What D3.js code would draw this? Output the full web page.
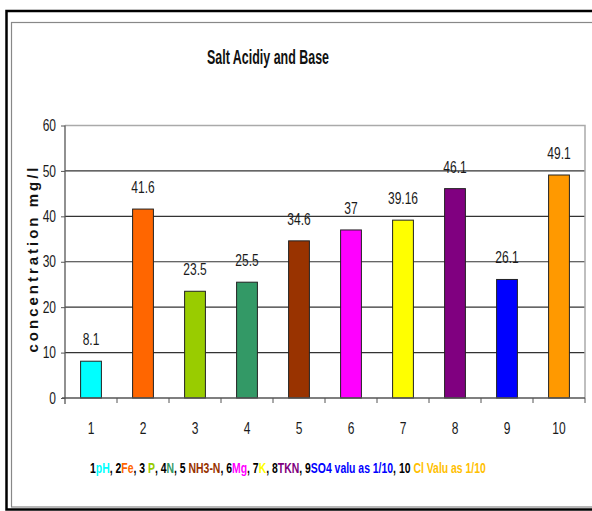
<!DOCTYPE html>
<html><head><meta charset="utf-8">
<script src="https://cdn.jsdelivr.net/npm/d3@7"></script>
<style>
html,body{margin:0;padding:0;background:#fff;}
svg{display:block;}
.narrow{font-family:"Liberation Sans Narrow","Arial Narrow","Liberation Sans",Arial,sans-serif;}
</style>
</head><body>
<svg id="c" width="592" height="511"></svg>
<script>
const categories = ["1","2","3","4","5","6","7","8","9","10"];
const values = [8.1, 41.6, 23.5, 25.5, 34.6, 37, 39.16, 46.1, 26.1, 49.1];
const valueLabels = ["8.1","41.6","23.5","25.5","34.6","37","39.16","46.1","26.1","49.1"];
const barColors = ["#00FFFF","#FF6600","#99CC00","#339966","#993300","#FF00FF","#FFFF00","#800080","#0000FF","#FF9900"];
const yTicks = [0,10,20,30,40,50,60];
const legendParts = [
  ["1","#000"],["pH","#00FFFF"],[", 2","#000"],["Fe","#FF6600"],[", 3 ","#000"],["P","#99CC00"],
  [", 4","#000"],["N","#339966"],[", 5 ","#000"],["NH3-N","#993300"],[", 6","#000"],["Mg","#FF00FF"],
  [", 7","#000"],["K","#FFFF00"],[", 8","#000"],["TKN","#800080"],[", 9","#000"],["SO4 valu as 1/10","#0000FF"],
  [", 10 ","#000"],["Cl Valu as 1/10","#FFC000"]
];
const title = "Salt Acidiy and Base";
const yTitle = "concentration mg/l";

const svg = d3.select("#c");
function narrow(sel, factor){
  sel.each(function(){
    const len = this.getComputedTextLength();
    d3.select(this).attr("textLength", len*factor).attr("lengthAdjust","spacingAndGlyphs");
  });
}
// frames
svg.append("rect").attr("x",6.5).attr("y",11).attr("width",620).attr("height",498.5)
  .attr("fill","none").attr("stroke","#000").attr("stroke-width",2.5);
svg.append("rect").attr("x",11.5).attr("y",22.5).attr("width",620).attr("height",484.5)
  .attr("fill","none").attr("stroke","#888").attr("stroke-width",1.2);

const x = d3.scaleBand().domain(categories).range([65,585]).paddingInner(0.6).paddingOuter(0.3);
const y = d3.scaleLinear().domain([0,60]).range([398,125.5]);

// gridlines
svg.append("g").selectAll("line").data(yTicks.filter(t=>t>0 && t<60)).join("line")
  .attr("x1",65).attr("x2",585).attr("y1",d=>y(d)).attr("y2",d=>y(d))
  .attr("stroke","#333").attr("stroke-width",1.2);
svg.append("path").attr("d",`M65,${y(60)}H585V${y(0)}`).attr("fill","none").attr("stroke","#aaa").attr("stroke-width",1.5);

// bars
svg.append("g").selectAll("rect").data(values).join("rect")
  .attr("x",(d,i)=>x(categories[i])).attr("width",x.bandwidth())
  .attr("y",d=>y(d)).attr("height",d=>y(0)-y(d))
  .attr("fill",(d,i)=>barColors[i]).attr("stroke","#222").attr("stroke-width",1);

// value labels
const vl = svg.append("g").attr("class","narrow").selectAll("text").data(values).join("text")
  .attr("x",(d,i)=>x(categories[i])+x.bandwidth()/2).attr("y",d=>y(d)-16)
  .attr("text-anchor","middle").attr("font-size",16).attr("fill","#1a1a1a")
  .text((d,i)=>valueLabels[i]);
narrow(vl, 0.75);

// y axis
const yAxis = svg.append("g").attr("transform","translate(65,0)")
  .call(d3.axisLeft(y).tickValues(yTicks).tickSize(4).tickPadding(5).tickFormat(d3.format("d")));
yAxis.select(".domain").attr("d",`M0,${y(60)}V${y(0)+6}`).attr("stroke","#555").attr("stroke-width",1.3);
yAxis.selectAll(".tick line").attr("stroke","#555");
const yt = yAxis.selectAll("text").attr("class","narrow").attr("font-size",16).attr("fill","#1a1a1a");
narrow(yt, 0.75);

// x axis
const xAxis = svg.append("g").attr("transform",`translate(0,${y(0)})`)
  .call(d3.axisBottom(x).tickSize(0).tickPadding(25));
xAxis.select(".domain").attr("d","M62,0H585").attr("stroke","#555").attr("stroke-width",1.3);
const xt = xAxis.selectAll("text").attr("class","narrow").attr("font-size",16).attr("fill","#1a1a1a");
narrow(xt, 0.75);
const step = x.step();
svg.append("g").selectAll("line").data(d3.range(1,11)).join("line")
  .attr("x1",d=>65+d*step).attr("x2",d=>65+d*step).attr("y1",y(0)).attr("y2",y(0)+5)
  .attr("stroke","#555").attr("stroke-width",1);

// title
svg.append("text").attr("class","narrow").attr("x",268).attr("y",64).attr("text-anchor","middle")
  .attr("font-size",20).attr("font-weight","bold").attr("fill","#111")
  .attr("textLength",122).attr("lengthAdjust","spacingAndGlyphs").text(title);

// y title
svg.append("text").attr("transform","translate(38,260) rotate(-90)").attr("text-anchor","middle")
  .attr("font-family","'Liberation Sans',Arial,sans-serif").attr("font-size",15).attr("font-weight","bold")
  .attr("textLength",185).attr("lengthAdjust","spacing").attr("fill","#111").text(yTitle);

// legend text (condensed via horizontal scaling of its group)
const lg = svg.append("g");
const lt = lg.append("text").attr("class","narrow").attr("x",0).attr("y",0).attr("text-anchor","start")
  .attr("font-size",15).attr("font-weight","bold");
lt.selectAll("tspan").data(legendParts).join("tspan").attr("fill",d=>d[1]).text(d=>d[0]);
const lw = lt.node().getComputedTextLength();
const sx = 395/lw;
lg.attr("transform",`translate(90,473) scale(${sx},1)`);
</script>
</body></html>
